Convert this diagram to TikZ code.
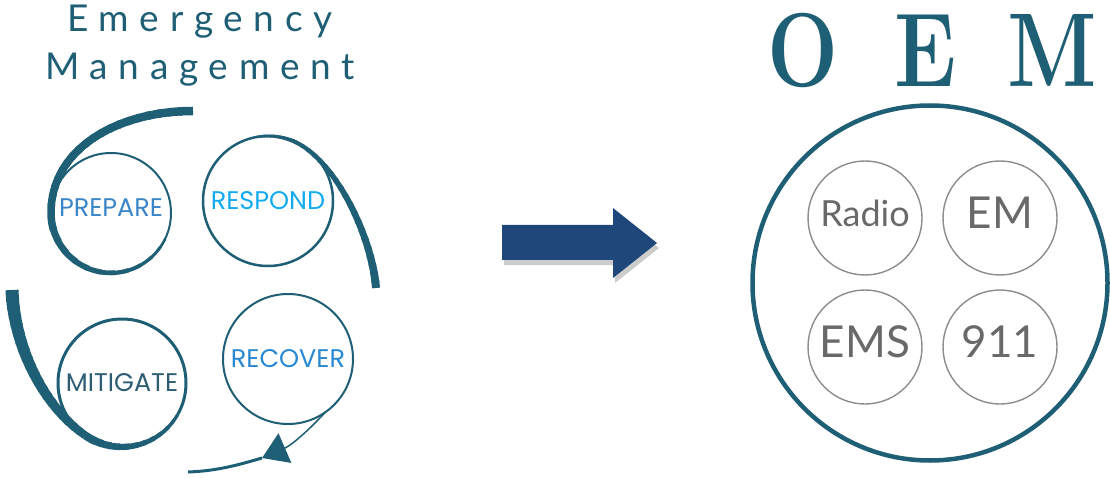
\documentclass[tikz,border=0pt]{standalone}
\usepackage{fontspec}
\usetikzlibrary{arrows.meta}

\newfontfamily\titlefont[LetterSpace=29]{Lato}
\newfontfamily\phasefont{Poppins}
\newfontfamily\unitfont{Lato}

\definecolor{emteal}{RGB}{31,95,117}
\definecolor{prepblue}{RGB}{58,134,200}
\definecolor{respcyan}{RGB}{20,170,240}
\definecolor{mitteal}{RGB}{45,92,115}
\definecolor{recblue}{RGB}{40,136,210}
\definecolor{arrowblue}{RGB}{31,71,122}
\definecolor{ringgray}{RGB}{140,140,140}
\definecolor{unitgray}{RGB}{105,105,105}

% tapered curve: 4 points, start width, end width
\newcommand\swooshcurve[6]{%
  \foreach \i in {0,...,19}{%
    \pgfmathsetmacro\tA{\i/20}%
    \pgfmathsetmacro\tB{min(1,(\i+1.3)/20)}%
    \pgfmathsetmacro\swW{#5+(#6-#5)*\i/19}%
    \pgfsetlinewidth{\swW pt}%
    \pgfsetstrokecolor{emteal}%
    \pgfsetbuttcap
    \pgfpathcurvebetweentime{\tA}{\tB}{#1}{#2}{#3}{#4}%
    \pgfusepath{stroke}%
  }}
% tapered arc round a circle node: node, radius, start/end angle, start/end width
\newcommand\swoosharc[6]{%
  \foreach \i in {0,...,11}{%
    \pgfmathsetmacro\angA{#3+(#4-#3)*\i/12}%
    \pgfmathsetmacro\angB{#3+(#4-#3)*min(1,(\i+1.3)/12)}%
    \pgfmathsetmacro\swW{#5+(#6-#5)*\i/11}%
    \draw[emteal, line width=\swW pt] (#1.\angA) arc[start angle=\angA, end angle=\angB, radius=#2];
  }}

\begin{document}
\begin{tikzpicture}[x=1pt, y=1pt,
  phase/.style={circle, draw=emteal, line width=2pt, inner sep=0pt, outer sep=0pt,
                font=\phasefont\fontsize{25.5}{25.5}\selectfont},
  unit/.style={circle, draw=ringgray, line width=1.4pt, minimum size=114pt,
               inner sep=0pt, outer sep=0pt, text depth=10pt, text=unitgray,
               font=\unitfont\fontsize{44}{44}\selectfont},
  letter/.style={anchor=base, text=emteal, inner sep=0pt,
                 font=\fontsize{105}{105}\selectfont\bfseries}]
  \useasboundingbox (0,0) rectangle (1110,477);

  % title
  \node[anchor=base, text=emteal, font=\titlefont\fontsize{37}{37}\selectfont] (em1) at (200,445) {Emergency};
  \node[anchor=base, text=emteal, font=\titlefont\fontsize{37}{37}\selectfont] (em2) at (200,397) {Management};

  % the four phases
  \node[phase, minimum size=120pt, text depth=10pt, text=prepblue] (prepare) at (111,264) {PREPARE};
  \node[phase, minimum size=130pt, line width=2.5pt, text=respcyan] (respond) at (268,276) {RESPOND};
  \node[phase, minimum size=128pt, line width=3pt, text=mitteal] (mitigate) at (122,94) {MITIGATE};
  \node[phase, minimum size=130pt, text=recblue] (recover) at (288,118) {RECOVER};

  % swoosh round prepare
  \coordinate (pstart) at (193,366);
  \swooshcurve{\pgfpointanchor{pstart}{center}}{\pgfpointxy{120}{366}}{\pgfpointxy{51}{330}}{\pgfpointanchor{prepare}{180}}{8.5}{7.5}
  \swoosharc{prepare}{60}{180}{335}{7.5}{2.5}

  % swoosh round respond
  \coordinate (rend) at (376,189);
  \swoosharc{respond}{65}{100}{65}{2.5}{4}
  \swooshcurve{\pgfpointanchor{respond}{65}}{\pgfpointxy{336}{316}}{\pgfpointxy{372}{240}}{\pgfpointanchor{rend}{center}}{4}{8}

  % swoosh round mitigate
  \coordinate (mstart) at (12,187);
  \swooshcurve{\pgfpointanchor{mstart}{center}}{\pgfpointxy{14}{130}}{\pgfpointxy{44}{70}}{\pgfpointanchor{mitigate}{235}}{13}{8}
  \swoosharc{mitigate}{64}{235}{330}{8}{3}

  % back round from recover
  \coordinate (rtip) at (262,19);
  \coordinate (rtail) at (188,5);
  \draw[emteal, line width=1.5pt, -{Triangle[length=25pt, width=32pt]}]
    (recover.-55) .. controls (310,48) and (292,32) .. (rtip);
  \draw[emteal, line width=3pt] (rtip) .. controls (235,11) and (215,6) .. (rtail);

  % big arrow
  \fill[black!20, shift={(2,-5)}] (502,252) -- (613,252) -- (613,269) -- (657,234)
    -- (613,199) -- (613,217) -- (502,217) -- cycle;
  \fill[arrowblue] (502,252) -- (613,252) -- (613,269) -- (657,234)
    -- (613,199) -- (613,217) -- (502,217) -- cycle;

  % OEM
  \node[letter] (oemO) at (802.5,390) {\scalebox{0.8}[1]{O}};
  \node[letter] (oemE) at (925.5,390) {\scalebox{0.8}[1]{E}};
  \node[letter] (oemM) at (1052.5,390) {\scalebox{0.8}[1]{M}};
  \node[circle, draw=emteal, line width=4.5pt, minimum size=355pt] (oem) at (930,194) {};
  \node[unit, font=\unitfont\fontsize{36}{36}\selectfont] (radio) at (865,259) {Radio};
  \node[unit] (em) at (1000,259) {EM};
  \node[unit] (ems) at (865,130) {EMS};
  \node[unit] (nine) at (1000,130) {911};
\end{tikzpicture}
\end{document}
